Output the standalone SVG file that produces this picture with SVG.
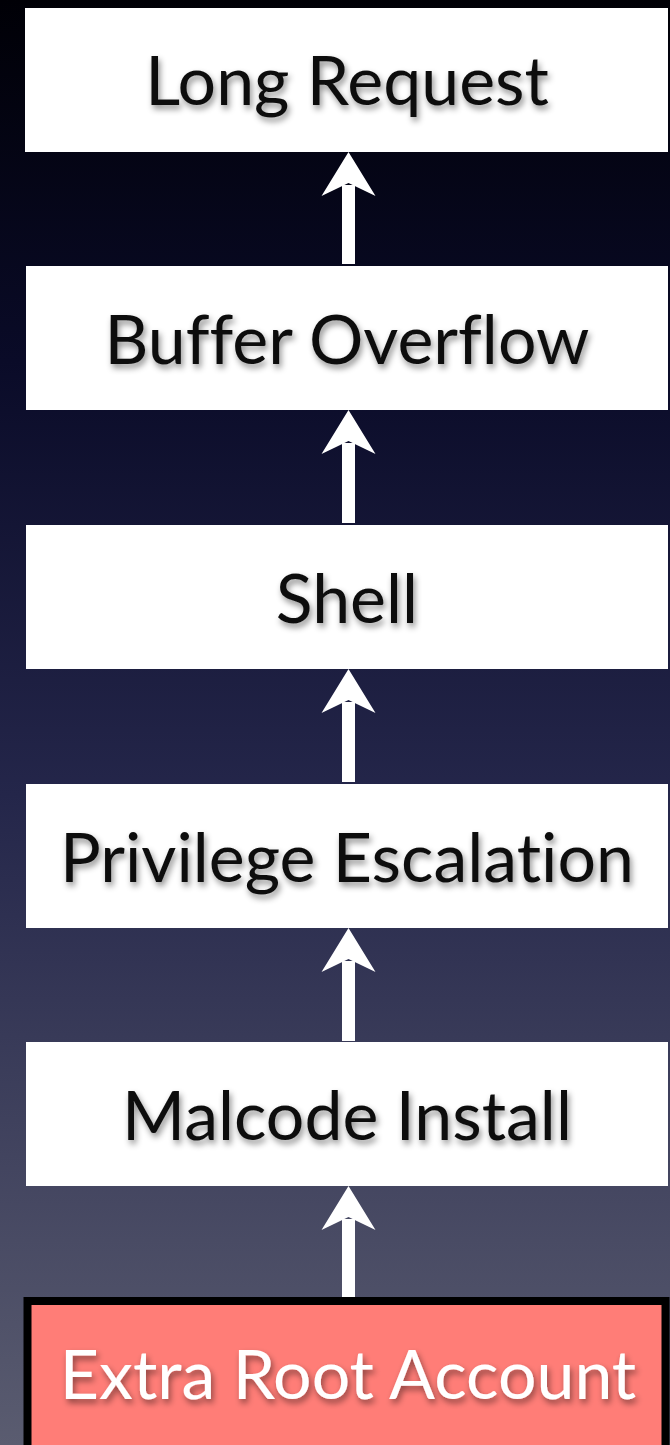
<svg xmlns="http://www.w3.org/2000/svg" width="670" height="1445" viewBox="0 0 670 1445">
<defs>
<linearGradient id="bg" x1="0" y1="0" x2="0" y2="1">
<stop offset="0" stop-color="#000006"/>
<stop offset="0.25" stop-color="#0a0b28"/>
<stop offset="0.55" stop-color="#24264a"/>
<stop offset="1" stop-color="#5a5c70"/>
</linearGradient>
<filter id="sh" x="-10%" y="-30%" width="120%" height="160%">
<feDropShadow dx="2" dy="4" stdDeviation="3" flood-color="#000" flood-opacity="0.45"/>
</filter>
</defs>
<style>
.box{fill:#fff}
.lbl{font-family:Lato,"Open Sans",sans-serif;font-size:68px;fill:#111;text-anchor:middle;filter:url(#sh);font-variant-ligatures:none;font-feature-settings:"liga" 0}
.red{fill:#ff7d77;stroke:#000;stroke-width:8}
.wl{fill:#fff}
.arr{stroke:#fff;stroke-width:13;fill:none}
.head{fill:#fff}
</style>
<rect width="670" height="1445" fill="url(#bg)"/>
<g id="connectors">
<line class="arr" x1="348.5" y1="264" x2="348.5" y2="185"/>
<path class="head" d="M348.5 152 L375.5 196 L348.5 183 L321.5 196 Z"/>
<line class="arr" x1="348.5" y1="523" x2="348.5" y2="443"/>
<path class="head" d="M348.5 410 L375.5 454 L348.5 441 L321.5 454 Z"/>
<line class="arr" x1="348.5" y1="782" x2="348.5" y2="702"/>
<path class="head" d="M348.5 669 L375.5 713 L348.5 700 L321.5 713 Z"/>
<line class="arr" x1="348.5" y1="1041" x2="348.5" y2="961"/>
<path class="head" d="M348.5 928 L375.5 972 L348.5 959 L321.5 972 Z"/>
<line class="arr" x1="348.5" y1="1298" x2="348.5" y2="1219"/>
<path class="head" d="M348.5 1186 L375.5 1230 L348.5 1217 L321.5 1230 Z"/>
</g>
<g id="n1"><rect class="box" x="25" y="8" width="643" height="144"/><text class="lbl" x="347" y="105">Long Request</text></g>
<g id="n2"><rect class="box" x="26" y="266" width="642" height="144"/><text class="lbl" x="347" y="364">Buffer Overflow</text></g>
<g id="n3"><rect class="box" x="26" y="525" width="642" height="144"/><text class="lbl" x="347" y="623">Shell</text></g>
<g id="n4"><rect class="box" x="26" y="784" width="642" height="144"/><text class="lbl" x="347" y="882">Privilege Escalation</text></g>
<g id="n5"><rect class="box" x="26" y="1042" width="642" height="144"/><text class="lbl" x="347" y="1140">Malcode Install</text></g>
<g id="n6"><rect class="red" x="27.5" y="1301" width="638" height="148"/><text class="lbl wl" x="348" y="1399">Extra Root Account</text></g>
</svg>
